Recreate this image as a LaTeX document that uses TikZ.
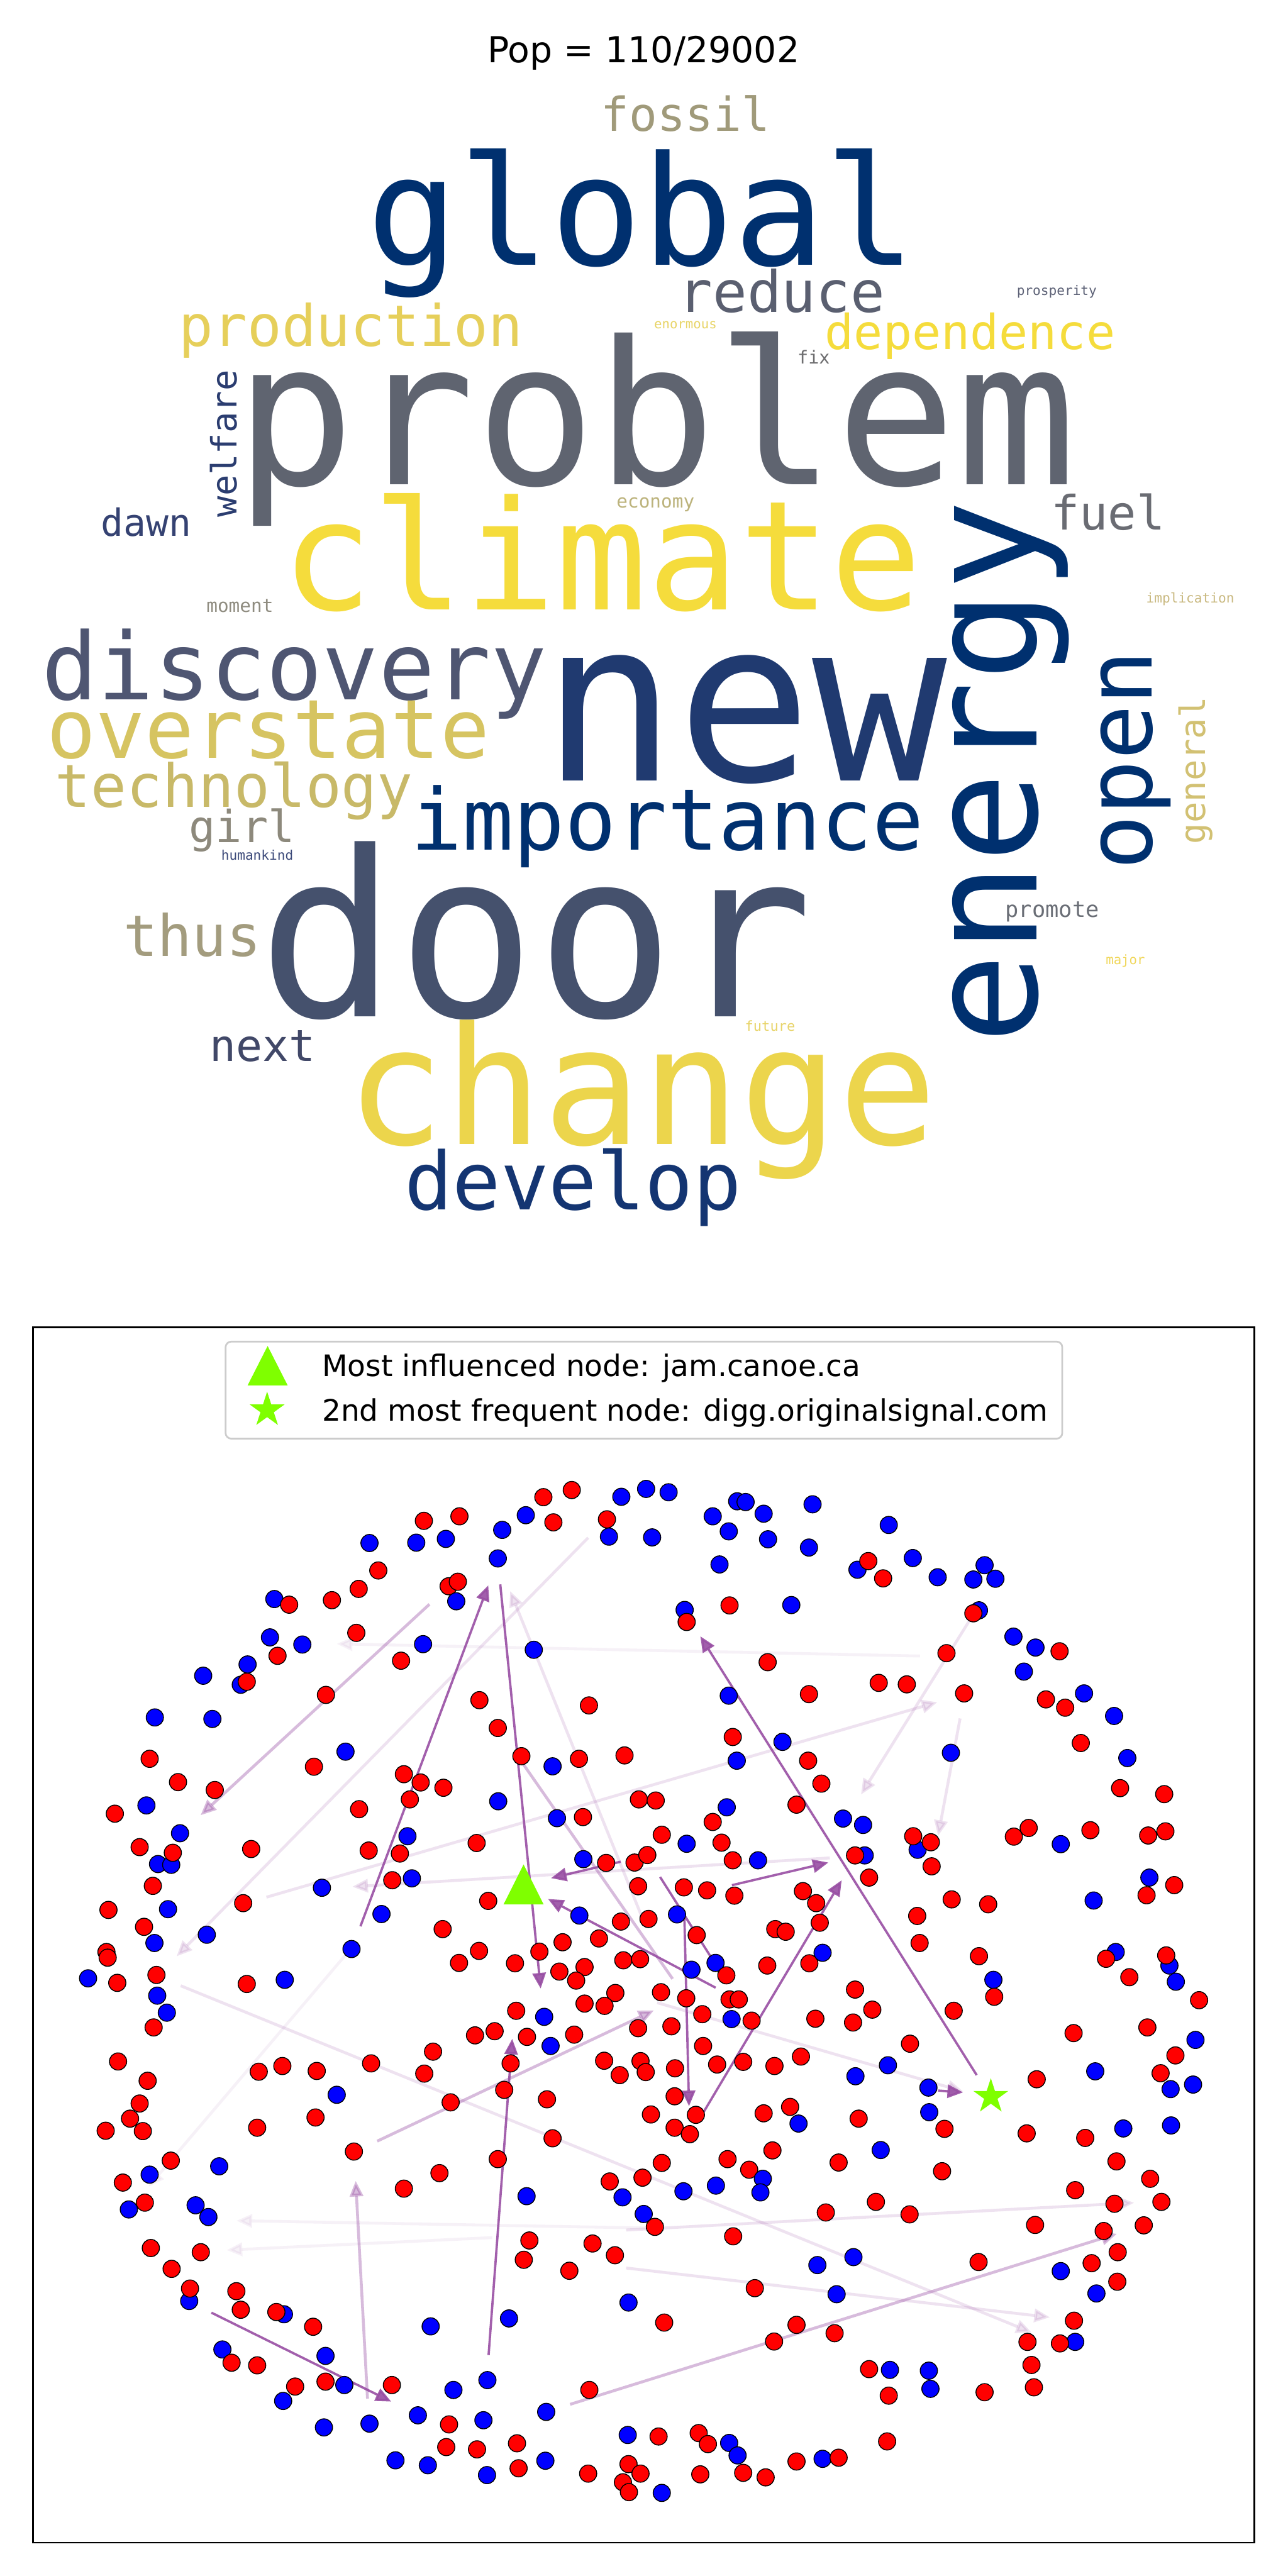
\documentclass[tikz,border=0pt]{standalone}
\usepackage{fontspec}
\setmainfont{DejaVu Sans}
\newfontfamily\cloudfont{DejaVu Sans Mono}
\usetikzlibrary{arrows.meta, shapes.geometric}
\definecolor{dotR}{RGB}{255,0,0}
\definecolor{dotB}{RGB}{0,0,255}
\definecolor{markgreen}{RGB}{127,255,0}
\definecolor{edgepurple}{RGB}{152,78,163}
\definecolor{legendgray}{RGB}{204,204,204}
% word cloud colours
\definecolor{wNavy}{HTML}{00306F}
\definecolor{wNew}{HTML}{203A70}
\definecolor{wDevelop}{HTML}{143572}
\definecolor{wWelfare}{HTML}{2B3D70}
\definecolor{wDawn}{HTML}{354272}
\definecolor{wNext}{HTML}{414868}
\definecolor{wHuman}{HTML}{3C4A7A}
\definecolor{wDoor}{HTML}{45516D}
\definecolor{wDisc}{HTML}{4F5672}
\definecolor{wReduce}{HTML}{5A5F70}
\definecolor{wProsp}{HTML}{5B6075}
\definecolor{wProblem}{HTML}{5F6470}
\definecolor{wFuel}{HTML}{6A6C73}
\definecolor{wPromote}{HTML}{6A6E76}
\definecolor{wFix}{HTML}{6E6E70}
\definecolor{wGirl}{HTML}{8D897C}
\definecolor{wMoment}{HTML}{8F8C80}
\definecolor{wFossil}{HTML}{A09A7A}
\definecolor{wThus}{HTML}{A39C7E}
\definecolor{wEconomy}{HTML}{BCB37C}
\definecolor{wTech}{HTML}{C8B968}
\definecolor{wImpl}{HTML}{C9B980}
\definecolor{wGeneral}{HTML}{D2C173}
\definecolor{wOver}{HTML}{D6C461}
\definecolor{wProd}{HTML}{E6CF5A}
\definecolor{wEnorm}{HTML}{E8D465}
\definecolor{wFuture}{HTML}{E8D46A}
\definecolor{wChange}{HTML}{ECD54C}
\definecolor{wMajor}{HTML}{F0D75A}
\definecolor{wYellow}{HTML}{F5DC3C}
\newcommand{\wf}[1]{\cloudfont\fontsize{#1pt}{#1pt}\selectfont}

\tikzset{
  word/.style={anchor=base, inner sep=0pt, outer sep=0pt},
  dot/.style={circle, draw=black, line width=0.3pt, minimum size=2.1mm, inner sep=0pt},
  edge/.style={edgepurple, line width=0.8pt, -{Triangle[length=5.4pt, width=4.6pt]}},
  strong/.style={edge, opacity=0.9},
  medium/.style={edge, opacity=0.38, line width=1pt},
  light/.style={edge, opacity=0.16, line width=1pt},
  faint/.style={edge, opacity=0.08, line width=1pt},
}

\begin{document}
\begin{tikzpicture}[x=0.02cm, y=-0.02cm]
  \fill[white] (0,0) rectangle (784,1568);
  \useasboundingbox (0,0) rectangle (784,1568);

  % Title
  \node[anchor=base, inner sep=0pt, font=\fontsize{12.4pt}{14pt}\selectfont] (title) at (391.75,38) {Pop = 110/29002};

  % Word cloud
  \node[word, text=wFossil, font=\wf{16.2}] (fossil) at (417.25,80) {fossil};
  \node[word, text=wNavy, font=\wf{52.7}] (global) at (390.75,161.25) {global};
  \node[word, text=wReduce, font=\wf{19.8}] (reduce) at (475.75,190) {reduce};
  \node[word, text=wProsp, font=\wf{4.6}] (prosperity) at (643.25,179.6) {prosperity};
  \node[word, text=wProd, font=\wf{19.8}] (production) at (213.5,210.75) {production};
  \node[word, text=wEnorm, font=\wf{4.5}] (enormous) at (417.25,200.2) {enormous};
  \node[word, text=wYellow, font=\wf{16.7}] (dependence) at (590.5,212.5) {dependence};
  \node[word, text=wFix, font=\wf{6.2}] (fix) at (495.3,221.4) {fix};
  \node[word, text=wProblem, font=\wf{69.2}] (problem) at (399.25,295) {problem};
  \node[word, text=wWelfare, font=\wf{12.1}, rotate=90] (welfare) at (144,270) {welfare};
  \node[word, text=wEconomy, font=\wf{6.4}] (economy) at (399,309.1) {economy};
  \node[word, text=wFuel, font=\wf{16.4}] (fuel) at (674.5,322.5) {fuel};
  \node[word, text=wDawn, font=\wf{13.0}] (dawn) at (89,326.25) {dawn};
  \node[word, text=wYellow, font=\wf{52.7}] (climate) at (366.25,371) {climate};
  \node[word, text=wMoment, font=\wf{6.4}] (moment) at (146,372.7) {moment};
  \node[word, text=wImpl, font=\wf{4.6}] (implication) at (724.5,367) {implication};
  \node[word, text=wNavy, font=\wf{52.2}, rotate=90] (energy) at (631,470) {energy};
  \node[word, text=wDisc, font=\wf{32.3}] (discovery) at (179.25,425.7) {discovery};
  \node[word, text=wNew, font=\wf{77.7}] (new) at (453.25,475.2) {new};
  \node[word, text=wOver, font=\wf{28.3}] (overstate) at (163.25,461.5) {overstate};
  \node[word, text=wTech, font=\wf{20.6}] (technology) at (142.5,491.5) {technology};
  \node[word, text=wNavy, font=\wf{31.7}, rotate=90] (open) at (701,462.7) {open};
  \node[word, text=wGeneral, font=\wf{12.1}, rotate=90] (general) at (733.5,469) {general};
  \node[word, text=wNavy, font=\wf{29.5}] (importance) at (406.25,517.2) {importance};
  \node[word, text=wGirl, font=\wf{15.3}] (girl) at (147.25,512.7) {girl};
  \node[word, text=wHuman, font=\wf{4.6}] (humankind) at (156.6,523.5) {humankind};
  \node[word, text=wDoor, font=\wf{79.9}] (door) at (326.25,619) {door};
  \node[word, text=wPromote, font=\wf{7.7}] (promote) at (640.5,558.2) {promote};
  \node[word, text=wThus, font=\wf{19.8}] (thus) at (117,582.2) {thus};
  \node[word, text=wMajor, font=\wf{4.5}] (major) at (685,587.2) {major};
  \node[word, text=wFuture, font=\wf{4.8}] (future) at (468.75,627.7) {future};
  \node[word, text=wNext, font=\wf{15.2}] (next) at (160,645.9) {next};
  \node[word, text=wChange, font=\wf{56.7}] (change) at (390.5,696.5) {change};
  \node[word, text=wDevelop, font=\wf{27.7}] (develop) at (348.75,736.5) {develop};

  % Network panel frame
  \draw[line width=0.6pt] (20,808) rectangle (763.6,1547.7);

  % Edges (drawn below the nodes)
  \foreach \xa/\ya/\xb/\yb in {560/1008/205/1000.6, 212/1188/90.5/1330.9,
      401/1356.3/144/1351.7, 299.6/1362/138/1369.6} {
    \coordinate (s) at (\xa,\ya); \coordinate (t) at (\xb,\yb);
    \draw[faint] (s) -- (t);
  }
  \foreach \xa/\ya/\xb/\yb in {162.2/1154.8/570.5/1036.1, 505.1/1130.9/214.5/1148.4,
      358/936/107.5/1190.8, 110/1208.7/627.9/1419.7, 584.4/1046/571/1117.5,
      591.3/984.5/524.1/1092.3, 381.1/1357.4/690.3/1340.8, 381.1/1380.5/639/1410.5,
      392/1170/310.5/968.5, 400/1219/586.2/1273} {
    \coordinate (s) at (\xa,\ya); \coordinate (t) at (\xb,\yb);
    \draw[light] (s) -- (t);
  }
  \foreach \xa/\ya/\xb/\yb in {223.7/1460/216.5/1327.5, 229.6/1303.3/398/1223.7,
      347/1463.5/679.8/1359.7, 261.4/976.5/122.1/1104.9} {
    \coordinate (s) at (\xa,\ya); \coordinate (t) at (\xb,\yb);
    \draw[medium] (s) -- (t);
  }
  \coordinate (m5s) at (317.8,1072.8); \coordinate (m5t) at (409.4,1204.5);
  \draw[medium, -] (m5s) -- (m5t);
  \foreach \xa/\ya/\xb/\yb in {304.5/964.4/329.1/1210.4, 219.4/1172.5/297.2/965,
      377.8/1133.2/335.4/1143.2, 435.6/1209.9/333.6/1155.9, 445.5/1147.5/504.2/1133.7,
      428.4/1285.4/512.3/1144.5, 416.6/1167.9/419.4/1282, 594.5/1263.1/426.3/996,
      571/1272.5/586.2/1273.6, 128.7/1407.7/238.1/1461.8, 297.4/1433.5/311.8/1241} {
    \coordinate (s) at (\xa,\ya); \coordinate (t) at (\xb,\yb);
    \draw[strong] (s) -- (t);
  }
  \coordinate (g8s) at (401.8,1142.5); \coordinate (g8t) at (432.9,1191.5);
  \draw[strong, -] (g8s) -- (g8t);

  % Nodes, upper left block
  \begin{scope}[shift={(20.03,849.3)}, x=0.004862cm, y=-0.004584cm]
    \foreach \k/\xx/\yy [count=\i] in {B/842/393, B/959/392, R/978/334, R/1067/322, B/1033/382,
        B/1174/358, B/1233/319, R/1277/271, R/1348/252, R/1302/338, B/1163/434, R/864/466,
        R/815/515, R/1040/508, R/1063/496, B/1059/548, B/1472/270, B/1534/249, R/1436/330,
        B/1441/376, B/1549/378, B/604/542, R/641/557, R/748/545, R/809/632, B/593/644,
        B/674/663, R/612/693, B/537/716, B/520/770, R/535/762, B/426/746, B/976/662,
        R/921/706, B/1253/677, R/733/797, B/305/857, B/449/861, R/1117/811, R/1163/885,
        R/1391/825, R/292/967, B/782/948, R/703/988, R/1222/960, B/1300/987, R/1366/967,
        R/1480/958, R/363/1029, R/455/1050, R/928/1008, R/970/1030, R/1027/1044, R/943/1075,
        B/284/1091, R/205/1113, R/816/1101, B/1164/1080, B/1311/1125, R/1376/1122,
        R/1516/1075, R/1558/1078, B/368/1165, R/267/1202, B/313/1247, B/346/1249, R/350/1217,
        R/546/1207, B/937/1173, R/840/1211, R/918/1219, R/1110/1191, B/1377/1234,
        R/1434/1244, R/1505/1243, R/1537/1223, R/300/1305, B/723/1310, R/899/1290,
        B/948/1285, R/1514/1306, R/189/1369, B/338/1367, R/526/1351, B/872/1380, R/1139/1345,
        B/1367/1384, R/1471/1400, R/1540/1393, R/278/1414, B/435/1435, B/304/1457,
        R/1025/1420, R/1416/1445, R/184/1481, R/187/1496, B/797/1473, R/1116/1478,
        R/1066/1510, R/1206/1511, R/1267/1480, R/1325/1455, R/1317/1533, R/1380/1521,
        R/1359/1557, R/1477/1503, R/1519/1500, B/138/1551, R/211/1563, R/309/1542,
        R/535/1566, B/630/1555}
      \node[dot, fill=dot\k] (ul\i) at (\xx,\yy) {};
  \end{scope}

  % Nodes, upper right block
  \begin{scope}[shift={(381.1,849.3)}, x=0.004888cm, y=-0.004584cm]
    \foreach \k/\xx/\yy [count=\i] in {B/106/258, B/216/322, B/277/282, B/298/284, B/343/315,
        B/256/362, B/354/383, B/465/290, B/456/405, B/233/450, B/655/345, B/577/464,
        R/604/441, R/641/487, B/715/433, B/777/484, B/894/452, B/866/490, B/921/488,
        B/880/572, R/866/580, B/146/571, R/151/603, R/258/559, B/412/558, B/966/642,
        B/1021/671, R/1081/681, B/992/735, R/353/710, R/799/686, R/630/765, R/700/769,
        R/843/793, B/256/799, R/456/795, R/1047/809, R/1095/831, B/1142/793, B/1217/853,
        R/266/909, B/390/922, B/276/972, R/454/972, R/487/1033, B/810/951, R/1134/925,
        B/1250/965, R/1232/1045, R/1342/1061, B/251/1096, R/216/1135, R/425/1089, R/89/1169,
        B/151/1193, R/238/1190, R/266/1237, B/329/1237, B/541/1126, B/591/1143, B/595/1224,
        R/571/1224, R/606/1283, B/727/1209, R/716/1173, R/760/1189, R/762/1253, R/967/1174,
        R/1004/1151, B/1084/1194, R/1158/1157, R/1302/1171, R/1345/1160, B/1305/1283,
        R/1367/1303, R/1298/1330, B/1166/1344, R/144/1309, R/202/1317, R/270/1331,
        R/441/1319, R/474/1351, R/812/1341, R/903/1354, B/127/1381, R/176/1436, R/372/1420,
        R/398/1427, R/483/1403, R/726/1385, R/732/1457, B/163/1528, B/223/1510, R/250/1543,
        R/352/1517, R/457/1511, B/490/1483, R/880/1492, B/1221/1481, R/1197/1499,
        B/1355/1517, R/1347/1490, R/1255/1548, B/1371/1560, B/916/1555}
      \node[dot, fill=dot\k] (ur\i) at (\xx,\yy) {};
  \end{scope}

  % Nodes, lower left block
  \begin{scope}[shift={(20.03,1186.85)}, x=0.004862cm, y=-0.00461cm]
    \foreach \k/\xx/\yy [count=\i] in {B/311/121, B/335/166, R/302/205, R/1457/114, R/1380/142,
        R/1430/148, R/1209/161, B/1279/177, R/1106/226, R/1155/215, R/1236/230, B/1295/254,
        R/1354/224, R/1514/207, R/213/295, R/287/346, R/267/406, R/243/446, R/275/479,
        R/182/478, R/565/322, R/624/307, R/710/320, R/846/300, R/1001/269, R/979/327,
        B/760/383, R/707/443, R/561/470, R/1195/300, R/1179/370, R/1045/403, R/1286/395,
        R/1300/498, R/1429/293, R/1520/294, R/1533/323, R/1468/331, R/1546/435, R/803/533,
        R/1163/553, R/1017/590, R/928/631, R/345/557, B/466/572, B/292/594, R/225/615,
        R/280/668, B/240/686, B/407/675, B/439/706, B/1235/651, R/1443/612, R/1525/602,
        B/1475/654, B/1528/698, R/1556/732, R/295/788, R/420/799, R/347/843, B/391/928,
        R/393/895, R/509/902, R/520/951, B/628/963, R/609/957, R/701/996, R/1242/768,
        R/1228/819, R/1400/776, R/1456/807, R/1342/848, B/1490/932, B/1191/974, B/995/995,
        B/474/1056, R/497/1091, R/561/1098, B/732/1073, R/656/1154, B/626/1192, R/732/1141,
        B/779/1150, R/898/1150, B/728/1262, B/842/1252, B/963/1230, R/1041/1254, B/1127/1243,
        B/1137/1137, B/1052/1163, R/1392/1163, B/1284/1221, B/907/1349, B/988/1362,
        R/1034/1314, R/1111/1320, R/1211/1304, R/1215/1370, B/1282/1350, B/1136/1388,
        R/1389/1384, R/1490/1359, R/1520/1384, R/1476/1407, R/1491/1433, B/1488/1282}
      \node[dot, fill=dot\k] (ll\i) at (\xx,\yy) {};
  \end{scope}

  % Nodes, lower right block
  \begin{scope}[shift={(381.1,1186.85)}, x=0.004888cm, y=-0.00461cm]
    \foreach \k/\xx/\yy [count=\i] in {R/87/112, R/150/128, R/190/170, R/258/131, R/281/131,
        B/263/183, R/313/187, R/113/202, R/192/254, R/227/303, R/292/296, R/370/307,
        R/436/282, R/122/313, R/121/387, R/174/436, R/121/470, R/159/487, R/472/182,
        R/566/192, R/614/158, R/708/248, R/817/161, R/918/124, R/571/105, R/1116/220,
        R/1300/205, R/1429/133, B/1420/238, R/1370/279, R/1333/326, B/1358/368, B/1414/356,
        B/1170/321, R/1024/342, B/653/305, B/572/334, B/754/364, B/756/429, R/794/473,
        R/343/432, R/409/415, B/430/459, R/580/446, R/999/485, R/1145/497, B/1240/472,
        B/1359/464, B/635/529, R/530/562, R/788/585, R/365/530, R/253/553, R/307/581,
        B/341/605, B/335/641, R/89/563, B/143/638, B/224/623, R/1223/559, R/1307/605,
        R/1120/635, R/1218/671, R/1335/666, R/1291/728, R/1191/743, R/623/666, R/498/694,
        R/707/699, R/1020/727, R/267/757, R/879/825, B/477/833, B/567/812, B/525/910,
        R/321/894, R/1226/799, R/1161/828, B/1084/849, R/1225/877, B/1173/908, R/95/985,
        R/425/991, R/520/1013, R/369/1035, R/1117/980, R/1001/1036, B/1120/1036,
        R/1082/1040, R/1011/1097, R/1017/1156, R/606/1108, B/658/1110, B/755/1112,
        B/759/1160, R/655/1178, R/894/1169, R/651/1299, R/81/1286, R/181/1277, R/204/1306,
        B/257/1303, B/278/1336, R/425/1352, B/490/1345, R/530/1342, R/185/1386, R/292/1382,
        R/348/1394, B/89/1435}
      \node[dot, fill=dot\k] (lr\i) at (\xx,\yy) {};
  \end{scope}

  % Highlighted nodes
  \coordinate (jam) at (318.7,1147);
  \fill[markgreen] (318.7,1134.9) -- (306.5,1159.2) -- (330.9,1159.2) -- cycle;
  \node[star, star points=5, star point ratio=2.618, minimum size=0.448cm, inner sep=0pt,
    fill=markgreen] (digg) at (603.1,1276.2) {};

  % Legend
  \draw[rounded corners=2pt, draw=legendgray, fill=white, fill opacity=0.8, line width=0.6pt]
    (137.3,816.6) rectangle (646.6,875.7);
  \fill[markgreen] (162.9,819.3) -- (150.7,843.3) -- (175.1,843.3) -- cycle;
  \node[star, star points=5, star point ratio=2.618, minimum size=0.448cm, inner sep=0pt,
    fill=markgreen] (legstar) at (162.6,858.3) {};
  \node[anchor=base west, inner sep=0pt, font=\fontsize{10.25pt}{12pt}\selectfont] (leg1)
    at (195.7,837.9) {Most influenced node: jam.canoe.ca};
  \node[anchor=base west, inner sep=0pt, font=\fontsize{10.25pt}{12pt}\selectfont] (leg2)
    at (195.7,864.9) {2nd most frequent node: digg.originalsignal.com};
\end{tikzpicture}
\end{document}
